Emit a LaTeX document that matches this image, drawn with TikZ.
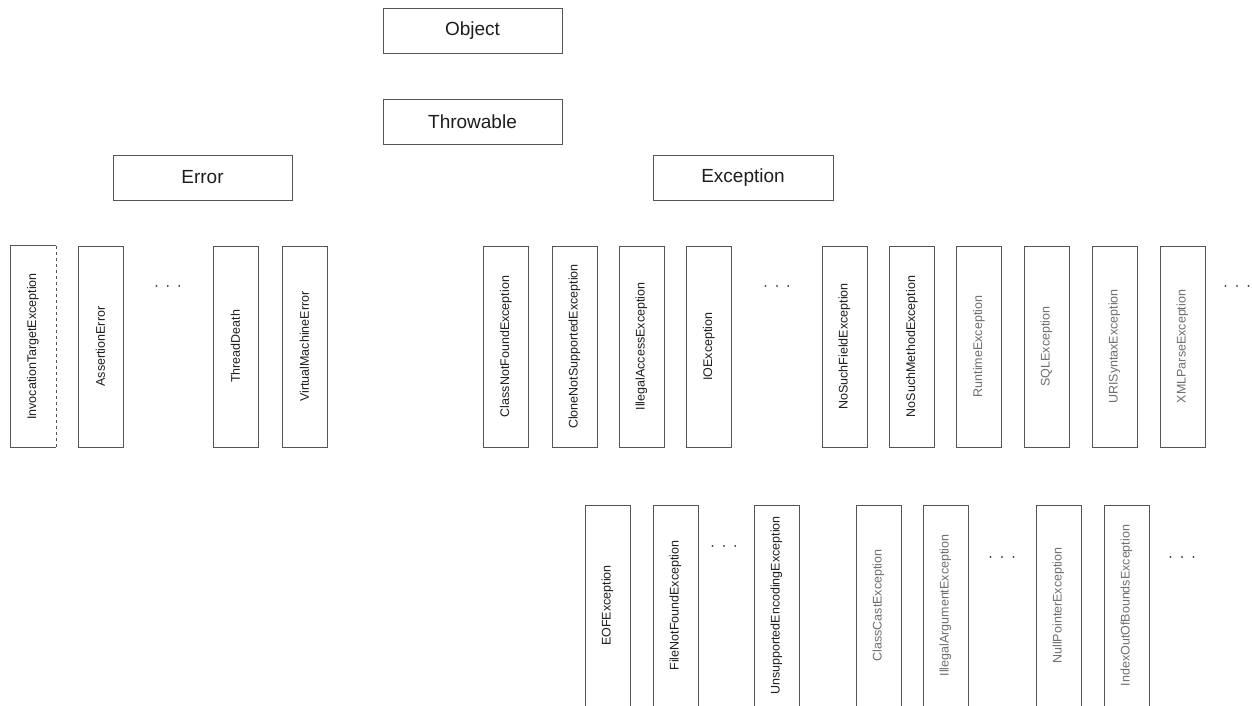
\documentclass[tikz,border=0pt]{standalone}
\usepackage{fontspec}
\setmainfont{Liberation Sans}
\definecolor{boxgray}{RGB}{85,85,85}
\definecolor{lighttext}{RGB}{110,110,110}
\definecolor{darktext}{RGB}{30,30,30}
\begin{document}
\begin{tikzpicture}[x=1pt,y=-1pt,
  topbox/.style={draw=boxgray, line width=0.9pt, minimum width=179pt, minimum height=45pt, inner sep=0pt, text=darktext, font=\fontsize{19}{22}\selectfont},
  vbox/.style={draw=boxgray, line width=0.9pt, rotate=90, minimum width=201pt, minimum height=45pt, inner sep=0pt, text=darktext, font=\fontsize{12.5}{14}\selectfont},
  lightbox/.style={vbox, text=lighttext},
  dashright/.style={vbox, draw=none},
  dots/.style={inner sep=0pt, text=darktext, font=\fontsize{15}{16}\selectfont}
]
\useasboundingbox (0,0) rectangle (1252,705);
\clip (0,0) rectangle (1252,705);
\fill[white] (0,0) rectangle (1252,705);

% top levels
\node[topbox] (object) at (472.5,31) {Object};
\node[topbox] (throwable) at (472.5,121.5) {Throwable};
\node[topbox] (error) at (202.5,177.5) {Error};
\node[topbox, minimum width=180pt] (exception) at (743,177.5) {Exception};

% Error children
\node[dashright] (ite) at (33,346.5) {InvocationTargetException};
\draw[boxgray, line width=0.9pt] (ite.south east) -- (ite.north east) -- (ite.north west) -- (ite.south west);
\draw[boxgray, line width=0.9pt, dashed] (ite.south east) -- (ite.south west);
\node[vbox] (assert) at (100.5,346.5) {AssertionError};
\node[dots] (edots) at (168,288) {·\hspace{6.5pt}·\hspace{6.5pt}·};
\node[vbox] (thread) at (235.5,346.5) {ThreadDeath};
\node[vbox] (vme) at (304.5,346.5) {VirtualMachineError};

% Exception children
\node[vbox] (cnf) at (506,346.5) {ClassNotFoundException};
\node[vbox] (cns) at (574.5,346.5) {CloneNotSupportedException};
\node[vbox] (iae) at (641.5,346.5) {IllegalAccessException};
\node[vbox] (ioe) at (709,346.5) {IOException};
\node[dots] (xdots1) at (777,288) {·\hspace{6.5pt}·\hspace{6.5pt}·};
\node[vbox] (nsf) at (844.5,346.5) {NoSuchFieldException};
\node[vbox] (nsm) at (912,346.5) {NoSuchMethodException};
\node[lightbox] (rte) at (979,346.5) {RuntimeException};
\node[lightbox] (sql) at (1046.5,346.5) {SQLException};
\node[lightbox] (uri) at (1114.5,346.5) {URISyntaxException};
\node[lightbox] (xml) at (1182.5,346.5) {XMLParseException};
\node[dots] (xdots2) at (1237,288) {·\hspace{6.5pt}·\hspace{6.5pt}·};

% IOException children
\node[vbox] (eof) at (607.5,605.5) {EOFException};
\node[vbox] (fnf) at (675.5,605.5) {FileNotFoundException};
\node[dots] (iodots) at (724,548) {·\hspace{6.5pt}·\hspace{6.5pt}·};
\node[vbox] (uee) at (776.5,605.5) {UnsupportedEncodingException};

% RuntimeException children
\node[lightbox] (cce) at (878.5,605.5) {ClassCastException};
\node[lightbox] (iarg) at (945.5,605.5) {IllegalArgumentException};
\node[dots] (rdots1) at (1002,559) {·\hspace{6.5pt}·\hspace{6.5pt}·};
\node[lightbox] (npe) at (1058.5,605.5) {NullPointerException};
\node[lightbox] (ioob) at (1126.5,605.5) {IndexOutOfBoundsException};
\node[dots] (rdots2) at (1182,559) {·\hspace{6.5pt}·\hspace{6.5pt}·};
\end{tikzpicture}
\end{document}
